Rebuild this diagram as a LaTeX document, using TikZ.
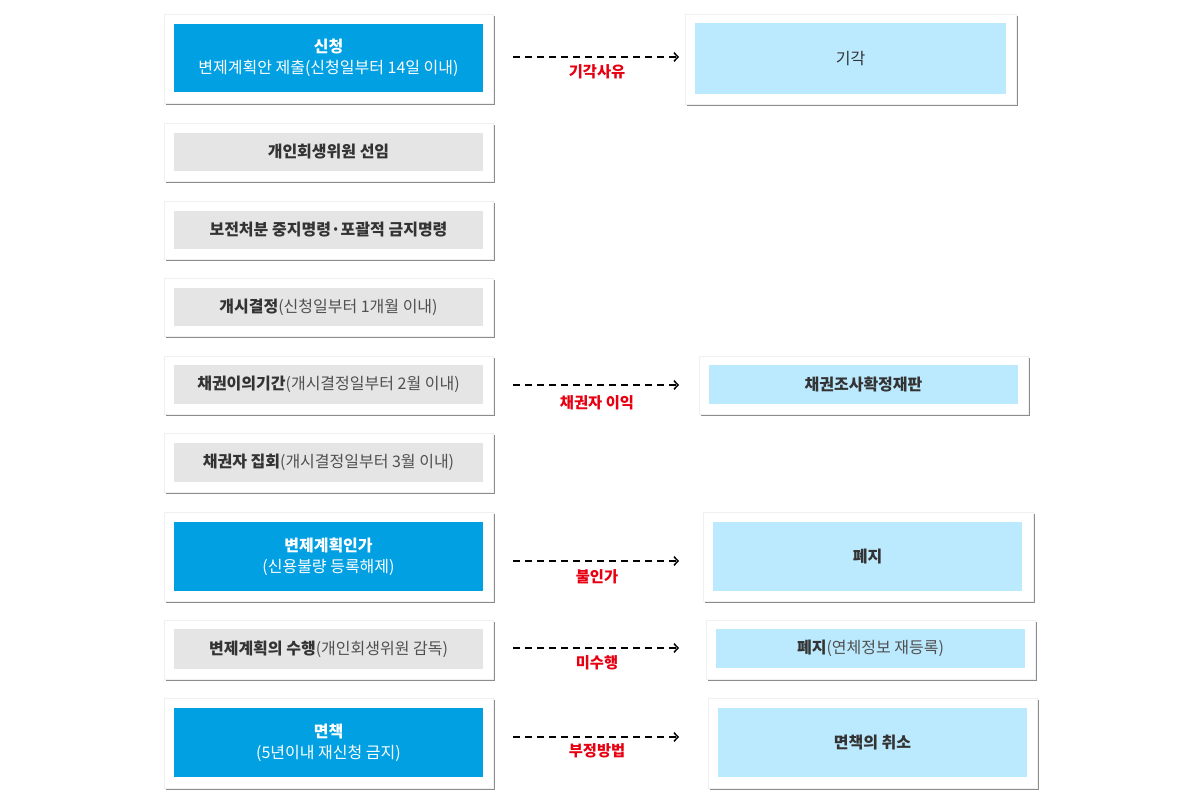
\documentclass[tikz,border=0pt]{standalone}
\usepackage{fontspec}
\setmainfont{Noto Sans CJK KR}
\usetikzlibrary{arrows.meta,fit}
\definecolor{mainblue}{RGB}{0,160,227}
\definecolor{lightblue}{RGB}{187,233,253}
\definecolor{boxgray}{RGB}{229,229,229}
\definecolor{txt}{RGB}{51,51,51}
\definecolor{txtl}{RGB}{80,80,80}
\definecolor{redlbl}{RGB}{230,0,18}
\definecolor{shadowc}{RGB}{140,140,140}
\tikzset{
  outerbox/.style={fill=white, draw=black!6, line width=0.5pt, inner sep=0pt},
  shadowbox/.style={fill=shadowc},
  blueb/.style={fill=mainblue, inner sep=0pt},
  grayb/.style={fill=boxgray, inner sep=0pt},
  lblueb/.style={fill=lightblue, inner sep=0pt},
  wtext/.style={text=white, align=center, inner sep=0pt,
    font=\fontsize{12}{16}\selectfont},
  gtext/.style={text=txtl, align=center, inner sep=0pt,
    font=\fontsize{12}{16}\selectfont},
  darrow/.style={line width=1.1pt, dash pattern=on 5.2pt off 3.8pt,
    -{Straight Barb[length=3pt,width=6.5pt]}},
  redlabel/.style={text=redlbl, font=\fontsize{11.5}{13}\selectfont\bfseries, inner sep=0pt},
}
\newcommand{\bt}[1]{{\bfseries\color{txt}#1}}
% outer white box with shadow: name, x1,y1,x2,y2
\newcommand{\obox}[5]{%
  \fill[shadowbox] (#2+1.6,#3+1.6) rectangle (#4+1.6,#5+1.6);
  \node[outerbox, fit={(#2,#3)(#4,#5)}] (#1) {};}
\begin{document}
\begin{tikzpicture}[x=0.75pt,y=-0.75pt]
\fill[white] (0,0) rectangle (1200,800);
\useasboundingbox (0,0) rectangle (1200,800);

% left column
\obox{o1}{164}{14}{493}{103}
\node[blueb, fit={(174,24)(483,92)}] (b1) {};
\node[wtext] (x1) at (b1) {{\bfseries 신청}\\변제계획안 제출(신청일부터 14일 이내)};
\obox{o2}{164}{123}{493}{181}
\node[grayb, fit={(174,133)(483,171)}] (b2) {};
\node[gtext] (x2) at (b2) {\bt{개인회생위원 선임}};
\obox{o3}{164}{201}{493}{259}
\node[grayb, fit={(174,211)(483,249)}] (b3) {};
\node[gtext] (x3) at (b3) {\bt{보전처분 중지명령·포괄적 금지명령}};
\obox{o4}{164}{278}{493}{336}
\node[grayb, fit={(174,288)(483,326)}] (b4) {};
\node[gtext] (x4) at (b4) {\bt{개시결정}(신청일부터 1개월 이내)};
\obox{o5}{164}{356}{493}{414}
\node[grayb, fit={(174,365)(483,404)}] (b5) {};
\node[gtext] (x5) at (b5) {\bt{채권이의기간}(개시결정일부터 2월 이내)};
\obox{o6}{164}{433}{493}{492}
\node[grayb, fit={(174,443)(483,482)}] (b6) {};
\node[gtext] (x6) at (b6) {\bt{채권자 집회}(개시결정일부터 3월 이내)};
\obox{o7}{164}{512}{493}{601}
\node[blueb, fit={(174,522)(483,591)}] (b7) {};
\node[wtext] (x7) at (b7) {{\bfseries 변제계획인가}\\(신용불량 등록해제)};
\obox{o8}{164}{620}{493}{679}
\node[grayb, fit={(174,629)(483,669)}] (b8) {};
\node[gtext] (x8) at (b8) {\bt{변제계획의 수행}(개인회생위원 감독)};
\obox{o9}{164}{698}{493}{788}
\node[blueb, fit={(174,708)(483,777)}] (b9) {};
\node[wtext] (x9) at (b9) {{\bfseries 면책}\\(5년이내 재신청 금지)};

% right column
\obox{r1}{685}{14}{1016}{104}
\node[lblueb, fit={(695,23)(1006,94)}] (rb1) {};
\node[gtext, text=txt] (y1) at (rb1) {기각};
\obox{r2}{699}{356}{1028}{414}
\node[lblueb, fit={(709,365)(1018,404)}] (rb2) {};
\node[gtext] (y2) at (rb2) {\bt{채권조사확정재판}};
\obox{r3}{703}{512}{1033}{601}
\node[lblueb, fit={(713,522)(1022,591)}] (rb3) {};
\node[gtext] (y3) at (rb3) {\bt{폐지}};
\obox{r4}{706}{620}{1035}{679}
\node[lblueb, fit={(716,629)(1025,668)}] (rb4) {};
\node[gtext] (y4) at (rb4) {\bt{폐지}(연체정보 재등록)};
\obox{r5}{708}{698}{1037}{788}
\node[lblueb, fit={(718,708)(1027,777)}] (rb5) {};
\node[gtext] (y5) at (rb5) {\bt{면책의 취소}};

% arrows
\coordinate (s1) at (513,57);  \coordinate (e1) at (679,57);
\coordinate (s2) at (513,385); \coordinate (e2) at (679,385);
\coordinate (s3) at (513,561); \coordinate (e3) at (679,561);
\coordinate (s4) at (513,648); \coordinate (e4) at (679,648);
\coordinate (s5) at (513,737); \coordinate (e5) at (679,737);
\draw[darrow] (s1) -- (e1);
\draw[darrow] (s2) -- (e2);
\draw[darrow] (s3) -- (e3);
\draw[darrow] (s4) -- (e4);
\draw[darrow] (s5) -- (e5);
\node[redlabel] (t1) at (597,72) {기각사유};
\node[redlabel] (t2) at (597,403) {채권자 이익};
\node[redlabel] (t3) at (597,577) {불인가};
\node[redlabel] (t4) at (597,663) {미수행};
\node[redlabel] (t5) at (597,751) {부정방법};
\end{tikzpicture}
\end{document}
